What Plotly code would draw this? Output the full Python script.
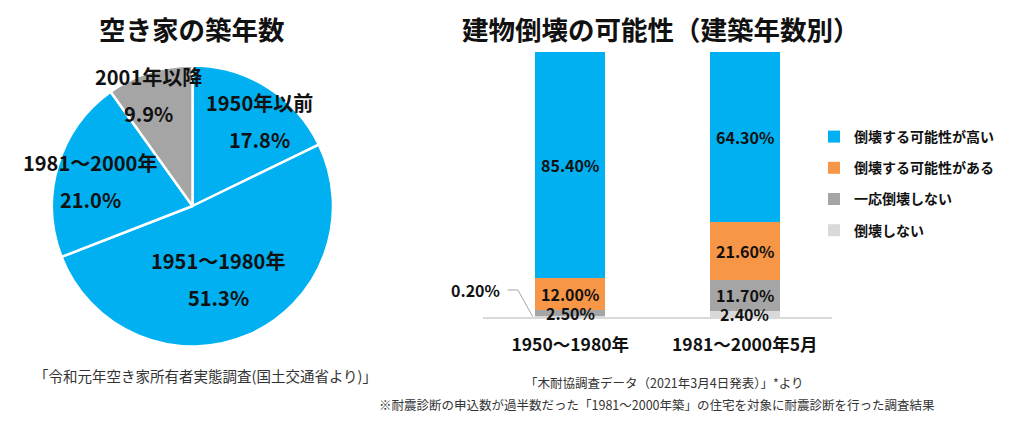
import math
import plotly.graph_objects as go

# ---------------- data ----------------
pie_labels = ["1950年以前", "1951～1980年", "1981～2000年", "2001年以降"]
pie_values = [17.8, 51.3, 21.0, 9.9]

bar_categories = ["1950～1980年", "1981～2000年5月"]
series_names = ["倒壊しない", "一応倒壊しない", "倒壊する可能性がある", "倒壊する可能性が高い"]
series_values = [
    [0.2, 2.4],     # 倒壊しない
    [2.5, 11.7],    # 一応倒壊しない
    [12.0, 21.6],   # 倒壊する可能性がある
    [85.4, 64.3],   # 倒壊する可能性が高い
]

title_left = "空き家の築年数"
title_right = "建物倒壊の可能性（建築年数別）"
note_left = "「令和元年空き家所有者実態調査(国土交通省より)」"
note_right1 = "「木耐協調査データ（2021年3月4日発表）」*より"
note_right2 = "※耐震診断の申込数が過半数だった「1981～2000年築」の住宅を対象に耐震診断を行った調査結果"

# ---------------- style / layout helpers ----------------
OFF = 8                     # page body margin of the html page
W, H = 1024 - OFF, 424 - OFF
FONT = "Noto Sans CJK JP"
BLUE = "#00B0F0"
ORANGE = "#F79646"
GRAY = "#A5A5A5"
LGRAY = "#D9D9D9"
TXT = "#111111"
pie_colors = [BLUE, BLUE, BLUE, GRAY]
series_colors = [LGRAY, GRAY, ORANGE, BLUE]
legend_rank = [4, 3, 2, 1]


def fx(X):
    return (X - OFF) / W


def fy(Y):
    return 1 - (Y - OFF) / H


fig = go.Figure()

# ---- pie ----
PX0, PX1, PY0, PY1 = 52, 333, 65.5, 346.5
fig.add_trace(go.Pie(
    values=pie_values, labels=pie_labels, sort=False, direction="clockwise",
    rotation=0, textinfo="none", hoverinfo="label+percent",
    marker=dict(colors=pie_colors, line=dict(color="white", width=2.5)),
    domain=dict(x=[fx(PX0), fx(PX1)], y=[fy(PY1), fy(PY0)]), showlegend=False,
))

# pie labels placed at slice mid-angles
cx = (PX0 + PX1) / 2
cy = (PY0 + PY1) / 2
R = min(PX1 - PX0, PY1 - PY0) / 2
label_r = [0.77, 0.55, 0.75, 0.85]
label_dang = [6, 4, -3, -4]
total = sum(pie_values)
cum = 0.0
for i, (lab, v) in enumerate(zip(pie_labels, pie_values)):
    mid = (cum + v / 2) / total * 360 + label_dang[i]
    cum += v
    px = cx + label_r[i] * R * math.sin(math.radians(mid))
    py = cy - label_r[i] * R * math.cos(math.radians(mid))
    for txt, dy in ((lab, -18.5), (f"{v:.1f}%", 18.5)):
        fig.add_annotation(x=fx(px), y=fy(py + dy), xref="paper", yref="paper",
                           xanchor="center", yanchor="middle",
                           text=f"<b>{txt}</b>", showarrow=False,
                           font=dict(family=FONT, size=20, color=TXT))

# ---- stacked bars ----
for name, vals, col, rk in zip(series_names, series_values, series_colors, legend_rank):
    fig.add_trace(go.Bar(
        x=bar_categories, y=vals, name=name, marker=dict(color=col, line=dict(width=0)),
        legendgroup=name, legendrank=rk, xaxis="x", yaxis="y",
    ))

# bar value labels
base = [0.0, 0.0]
for si, vals in enumerate(series_values):
    for ci, v in enumerate(vals):
        if not (si == 0 and ci == 0):
            fig.add_annotation(x=ci, y=base[ci] + v / 2, xref="x", yref="y",
                               xanchor="center", yanchor="middle",
                               text=f"<b>{v:.2f}%</b>", showarrow=False,
                               font=dict(family=FONT, size=16, color=TXT))
        base[ci] += v

# leader label for the small first segment
v0 = series_values[0][0]
fig.add_shape(type="path", xref="x", yref="y",
              path=f"M -0.36,10.2 L -0.30,10.2 L -0.215,{v0/2}",
              line=dict(color="#A6A6A6", width=1))
fig.add_annotation(x=fx(475), y=fy(290), xref="paper", yref="paper",
                   xanchor="center", yanchor="middle", text=f"<b>{v0:.2f}%</b>",
                   showarrow=False, font=dict(family=FONT, size=16, color=TXT))

# ---- titles and notes ----
def note(text, X, Y, size, color=TXT, bold=False, pad=1, yanchor="middle"):
    fig.add_annotation(x=fx(X), y=fy(Y), xref="paper", yref="paper",
                       xanchor="center", yanchor=yanchor, borderpad=pad,
                       text=f"<b>{text}</b>" if bold else text, showarrow=False,
                       font=dict(family=FONT, size=size, color=color))


note(title_left, 192, OFF, 26.5, bold=True, pad=0, yanchor="top")
note(title_right, 661, OFF, 26.5, bold=True, pad=0, yanchor="top")
note(note_left, 205.5, 375, 14.5, color="#333333")
note(note_right1, 664, 382, 12.5, color="#333333")
note(note_right2, 657, 404, 12.5, color="#333333")

fig.update_layout(
    width=W, height=H, margin=dict(l=0, r=0, t=0, b=0),
    paper_bgcolor="white", plot_bgcolor="white",
    barmode="stack", bargap=0.6,
    font=dict(family=FONT, color=TXT),
    xaxis=dict(domain=[fx(483), fx(832)], range=[-0.5, 1.5], type="category",
               showgrid=False, zeroline=False, showline=True, linecolor=LGRAY, linewidth=1.5,
               ticks="", ticklabelstandoff=11,
               tickfont=dict(family=FONT, size=17.5, color=TXT, weight="bold")),
    yaxis=dict(domain=[fy(317), fy(52)], range=[0, 100], visible=False),
    legend=dict(x=fx(814), y=fy(121), xanchor="left", yanchor="top",
                traceorder="grouped", tracegroupgap=10,
                font=dict(family=FONT, size=14, color=TXT, weight="bold"),
                bgcolor="rgba(0,0,0,0)", itemclick=False, itemdoubleclick=False),
)

fig.write_html("out.html")
